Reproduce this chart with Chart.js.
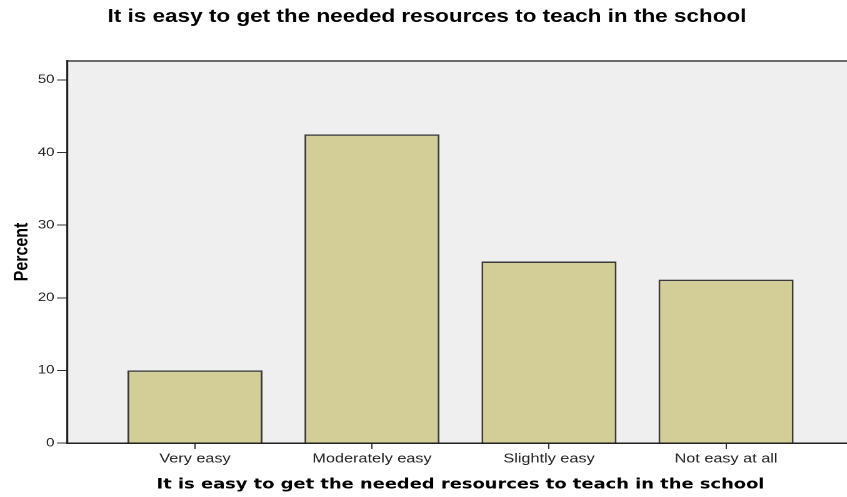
<!DOCTYPE html>
<html>
<head>
<meta charset="utf-8">
<script src="https://cdn.jsdelivr.net/npm/chart.js@4"></script>
<style>
    body { margin: 0; background: #fff; overflow: hidden; width: 847px; height: 497px; }
    /* the SPSS export is stretched sideways, so the chart is drawn narrow and widened */
    #barChart { transform: scaleX(1.25); transform-origin: 0 0; }
</style>
</head>
<body>
<canvas id="barChart" width="700" height="497"></canvas>
<script>
// Data
const categories = ['Very easy', 'Moderately easy', 'Slightly easy', 'Not easy at all'];
const percents = [10, 42.5, 25, 22.5];
const yTicks = [0, 10, 20, 30, 40, 50];

const chartTitle = 'It is easy to get the needed resources to teach in the school';

// Grey plot background and top frame line
const plotBackground = {
    id: 'plotBackground',
    beforeDraw(chart) {
        const { ctx, chartArea } = chart;
        ctx.save();
        ctx.fillStyle = '#efefef';
        ctx.fillRect(chartArea.left, chartArea.top, chartArea.right - chartArea.left, chartArea.bottom - chartArea.top);
        ctx.strokeStyle = '#6b6b6b';
        ctx.lineWidth = 2;
        ctx.beginPath();
        ctx.moveTo(chartArea.left, chartArea.top);
        ctx.lineTo(chartArea.right, chartArea.top);
        ctx.stroke();
        ctx.restore();
    }
};

const ctx = document.getElementById('barChart').getContext('2d');
new Chart(ctx, {
    type: 'bar',
    data: {
        datasets: [{
            label: 'Percent',
            data: percents.map((v, i) => ({ x: i + 1, y: v })),
            backgroundColor: '#d3cd97',
            borderColor: '#3a3a3a',
            borderWidth: 1.5,
            barPercentage: 0.763,
            categoryPercentage: 1
        }]
    },
    options: {
        responsive: false,
        animation: false,
        devicePixelRatio: 2,
        layout: { padding: { left: 0, right: 16.8 } },
        plugins: {
            legend: { display: false },
            tooltip: { enabled: false },
            title: {
                display: true,
                text: chartTitle,
                color: '#000',
                font: { family: 'Arial, "Liberation Sans", sans-serif', size: 18, weight: 'bold' },
                padding: { top: 6.2, bottom: 33.2 }
            }
        },
        scales: {
            x: {
                type: 'linear',
                min: 0.277,
                max: 4.723,
                offset: false,
                afterFit: (scale) => { scale.height = 54; },
                afterBuildTicks: (scale) => {
                    scale.ticks = categories.map((c, i) => ({ value: i + 1 }));
                },
                grid: { offset: false, drawOnChartArea: false, drawTicks: true, tickLength: 6, color: '#333' },
                border: { display: true, color: '#222', width: 1.5 },
                ticks: {
                    color: '#222',
                    padding: 2,
                    maxRotation: 0,
                    font: { family: 'Arial, "Liberation Sans", sans-serif', size: 13 },
                    callback: (value) => categories[value - 1] || ''
                },
                title: {
                    display: true,
                    text: chartTitle,
                    color: '#000',
                    font: { family: '"DejaVu Sans", sans-serif', size: 14.3, weight: 'bold' },
                    padding: { top: 4, bottom: 3.5 }
                }
            },
            y: {
                min: 0,
                max: 52.6,
                afterFit: (scale) => { scale.width = 53.6; },
                afterBuildTicks: (scale) => {
                    scale.ticks = yTicks.map(v => ({ value: v }));
                },
                grid: { drawOnChartArea: false, drawTicks: true, tickLength: 8, color: '#333' },
                border: { display: true, color: '#222', width: 1.6 },
                ticks: {
                    color: '#222',
                    padding: 2,
                    font: { family: 'Arial, "Liberation Sans", sans-serif', size: 12 }
                },
                title: {
                    display: true,
                    text: 'Percent',
                    color: '#000',
                    font: { family: 'Arial, "Liberation Sans", sans-serif', size: 16, weight: 'bold' },
                    padding: { top: 8, bottom: 4 }
                }
            }
        }
    },
    plugins: [plotBackground]
});
</script>
</body>
</html>
